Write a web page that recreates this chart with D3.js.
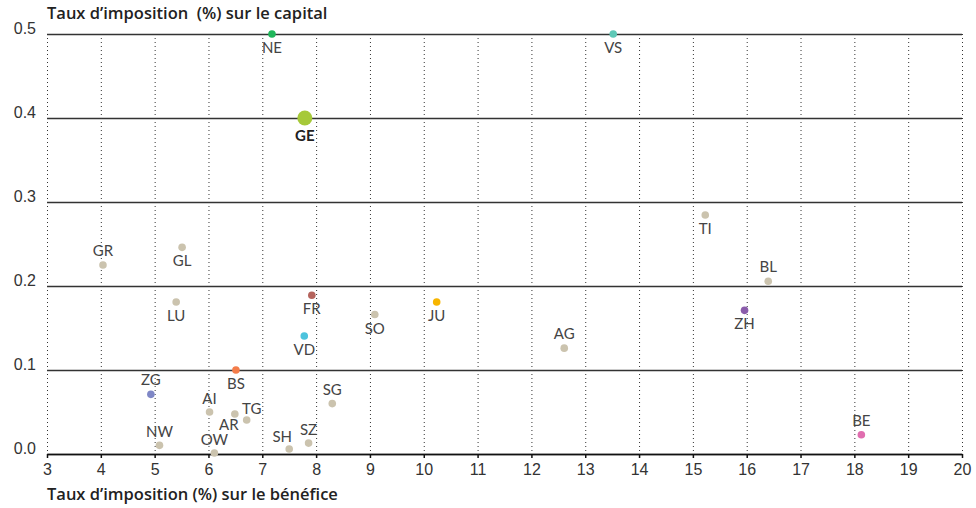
<!DOCTYPE html>
<html>
<head>
<meta charset="utf-8">
<script src="https://cdn.jsdelivr.net/npm/d3@7"></script>
<style>
  body { margin: 0; background: #fff; }
  svg { font-family: Lato, "Open Sans", sans-serif; }
  .title { font-family: "Open Sans", sans-serif; font-size: 16.5px; font-weight: 600; fill: #222; white-space: pre; }
  .tick text { font-size: 16px; fill: #333; }
  .lbl { font-size: 15px; fill: #444; }
</style>
</head>
<body>
<div class="chart"></div>
<script>
// cantons, profit tax (%) and capital tax (%)
var cantons = ["NE", "VS", "GE", "GR", "GL", "LU", "FR", "VD", "SO", "JU", "BS", "AG", "TI", "BL", "ZH", "BE",
  "ZG", "AI", "AR", "TG", "SG", "NW", "OW", "SH", "SZ"];
var profitTax = [7.18, 13.52, 7.79, 4.04, 5.51, 5.40, 7.92, 7.78, 9.09, 10.24, 6.51, 12.61, 15.23, 16.40, 15.96, 18.13,
  4.93, 6.02, 6.49, 6.71, 8.30, 5.09, 6.11, 7.50, 7.86];
var capitalTax = [0.5, 0.5, 0.4, 0.225, 0.246, 0.181, 0.189, 0.1405, 0.166, 0.181, 0.1, 0.126, 0.2845, 0.2056, 0.171, 0.023,
  0.071, 0.05, 0.0476, 0.0405, 0.06, 0.0103, 0.0012, 0.006, 0.013];
var xTicks = d3.range(3, 21);
var yTicks = [0, 0.1, 0.2, 0.3, 0.4, 0.5];

// colours by canton (others tan)
var colors = { NE: "#1fb65a", VS: "#5ec8b6", GE: "#a6c939", FR: "#b5645d", VD: "#4cc3dd", JU: "#f7b500",
  BS: "#f47d4a", ZH: "#8a5cab", BE: "#e06daf", ZG: "#7f87c6" };
var tan = "#cbc3ae";

// label placement: [dx, dy]
var lblPos = { GR: [0, -9], AG: [0, -9], BL: [0, -9], BE: [0, -9], ZG: [0, -9], AI: [0, -8], SG: [0, -9],
  NW: [0, -8], SZ: [0, -8], TG: [5, -6], AR: [-6, 16], OW: [0, -8], SH: [-7, -7] };

var svgWidth = 976, svgHeight = 508;
var margin = { top: 34, right: 14, bottom: 54, left: 47 };
var width = svgWidth - margin.left - margin.right;
var height = svgHeight - margin.top - margin.bottom;

var svg = d3.select(".chart").append("svg")
  .attr("width", svgWidth)
  .attr("height", svgHeight);

var chartGroup = svg.append("g")
  .attr("transform", `translate(${margin.left}, ${margin.top})`);

var x = d3.scaleLinear().domain([3, 20]).range([0, width]);
var y = d3.scaleLinear().domain([0, 0.5]).range([height, 0]);

// vertical dotted grid
var xGrid = chartGroup.append("g")
  .call(d3.axisBottom(x).tickValues(xTicks).tickSize(height).tickFormat(""));
xGrid.select(".domain").remove();
xGrid.selectAll("line").attr("stroke", "#333").attr("stroke-dasharray", "1,3");

// horizontal grid + y labels
var yAxis = chartGroup.append("g")
  .call(d3.axisLeft(y).tickValues(yTicks).tickSize(-width).tickPadding(11).tickFormat(d3.format(".1f")));
yAxis.select(".domain").remove();
yAxis.selectAll("line").attr("stroke", "#333").attr("stroke-width", 1.3);
yAxis.selectAll("text").attr("dy", "-0.05em");

// x axis
var xAxis = chartGroup.append("g")
  .attr("transform", `translate(0, ${height})`)
  .call(d3.axisBottom(x).tickValues(xTicks).tickSize(4).tickPadding(6).tickSizeOuter(0));
xAxis.select(".domain").attr("stroke", "#111").attr("stroke-width", 1.5);
xAxis.selectAll("line").attr("stroke", "#111").attr("stroke-width", 1.5);

var pts = cantons.map(function (c, i) {
  return { code: c, profit: profitTax[i], capital: capitalTax[i] };
});

chartGroup.selectAll("circle.pt")
  .data(pts)
  .enter()
  .append("circle")
  .attr("class", "pt")
  .attr("cx", function (d) { return x(d.profit); })
  .attr("cy", function (d) { return y(d.capital); })
  .attr("r", function (d) { return d.code === "GE" ? 7.5 : 3.8; })
  .attr("fill", function (d) { return colors[d.code] || tan; });

chartGroup.selectAll("text.lbl")
  .data(pts)
  .enter()
  .append("text")
  .attr("class", "lbl")
  .attr("text-anchor", "middle")
  .attr("x", function (d) { return x(d.profit) + (lblPos[d.code] ? lblPos[d.code][0] : 0); })
  .attr("y", function (d) {
    if (d.code === "GE") return y(d.capital) + 23;
    return y(d.capital) + (lblPos[d.code] ? lblPos[d.code][1] : 19);
  })
  .style("font-weight", function (d) { return d.code === "GE" ? 700 : 400; })
  .style("fill", function (d) { return d.code === "GE" ? "#222" : null; })
  .text(function (d) { return d.code; });

// axis titles
svg.append("text")
  .attr("class", "title")
  .attr("x", margin.left)
  .attr("y", 19)
  .text("Taux d\u2019imposition  (%) sur le capital");

svg.append("text")
  .attr("class", "title")
  .attr("x", margin.left)
  .attr("y", 500)
  .text("Taux d\u2019imposition (%) sur le bénéfice");
</script>
</body>
</html>
